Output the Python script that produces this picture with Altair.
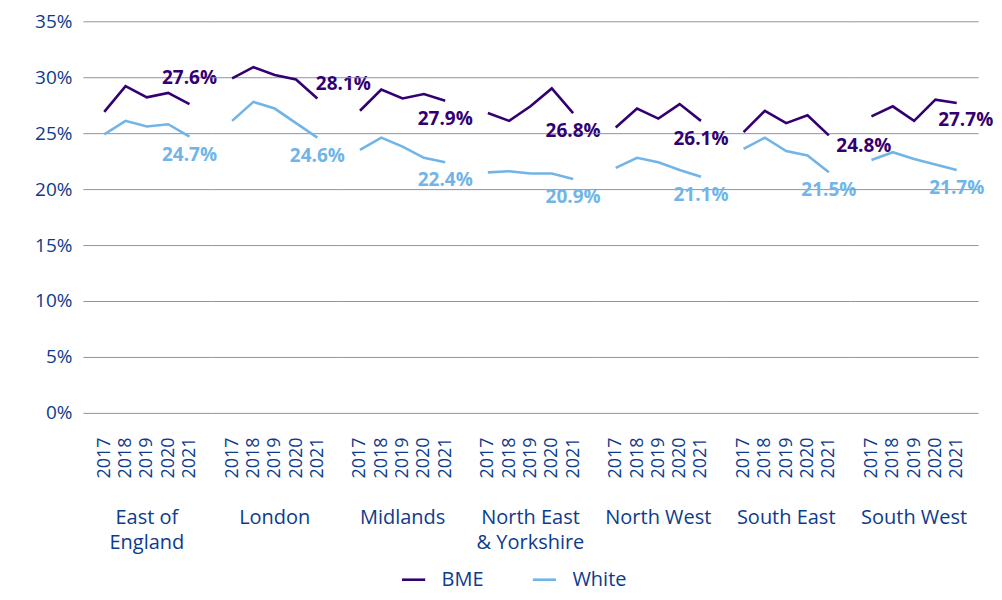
import altair as alt
import pandas as pd

regions = ["East of England", "London", "Midlands", "North East & Yorkshire",
           "North West", "South East", "South West"]
years = ["2017", "2018", "2019", "2020", "2021"]
series = ["BME", "White"]

bme = [
    [26.9, 29.2, 28.2, 28.6, 27.6],
    [29.9, 30.9, 30.2, 29.8, 28.1],
    [27.0, 28.9, 28.1, 28.5, 27.9],
    [26.8, 26.1, 27.4, 29.0, 26.8],
    [25.5, 27.2, 26.3, 27.6, 26.1],
    [25.1, 27.0, 25.9, 26.6, 24.8],
    [26.5, 27.4, 26.1, 28.0, 27.7],
]
white = [
    [24.9, 26.1, 25.6, 25.8, 24.7],
    [26.1, 27.8, 27.2, 25.9, 24.6],
    [23.5, 24.6, 23.8, 22.8, 22.4],
    [21.5, 21.6, 21.4, 21.4, 20.9],
    [21.9, 22.8, 22.4, 21.7, 21.1],
    [23.6, 24.6, 23.4, 23.0, 21.5],
    [22.6, 23.3, 22.7, 22.2, 21.7],
]
y_ticks = [0, 5, 10, 15, 20, 25, 30, 35]

rows = []
for ri, reg in enumerate(regions):
    for yi, yr in enumerate(years):
        rows.append({"region": reg, "year": yr, "series": "BME", "value": bme[ri][yi],
                     "key": reg + "|BME"})
        rows.append({"region": reg, "year": yr, "series": "White", "value": white[ri][yi],
                     "key": reg + "|White"})
df = pd.DataFrame(rows)

PURPLE = "#330072"
LIGHT = "#71B5E8"
TEXT = "#0D3B8C"
GRID = "#8C95A3"
FONT = "Open Sans"

# label placement nudges (style, not data)
nudges = {
    "East of England|BME": (0, -26),
    "London|BME": (26, -14),
    "South East|BME": (35, 11),
    "South West|BME": (9, 17),
}

x_enc = alt.X("year:O", sort=years,
              scale=alt.Scale(type="point", padding=1.5),
              axis=alt.Axis(title=None, labelAngle=-90, labelFontSize=18,
                            labelColor=TEXT, labelFont=FONT, ticks=False,
                            domain=False, labelPadding=24, labelOverlap=False,
                            grid=False))
y_enc = alt.Y("value:Q", scale=alt.Scale(domain=[0, 35]),
              axis=alt.Axis(title=None, values=y_ticks, labelExpr="datum.value + '%'",
                            labelFontSize=19, labelColor=TEXT, labelFont=FONT,
                            ticks=False, domain=False, labelPadding=11,
                            minExtent=70, gridColor=GRID, gridWidth=1))

lines = alt.Chart().mark_line(strokeWidth=2.6).encode(
    x=x_enc, y=y_enc,
    color=alt.Color("series:N", scale=alt.Scale(domain=series, range=[PURPLE, LIGHT]),
                    legend=alt.Legend(title=None, orient="none", direction="horizontal",
                                      legendX=318, legendY=546, padding=0,
                                      symbolType="stroke", symbolStrokeWidth=2.6,
                                      symbolSize=540, labelFontSize=20, labelColor=TEXT,
                                      labelFont=FONT, labelOffset=15, columnPadding=43)),
    detail="series:N",
)

label_color = alt.condition(alt.datum.series == "BME", alt.value(PURPLE), alt.value(LIGHT))


def label_layer(dx, dy, filt):
    return alt.Chart().mark_text(fontSize=19, fontWeight="bold", font=FONT,
                                 dx=dx, dy=dy, baseline="middle", align="center").encode(
        x=alt.X("year:O", sort=years), y="value:Q",
        text=alt.Text("label:N"),
        color=label_color,
    ).transform_filter(alt.datum.year == "2021").transform_filter(filt).transform_calculate(
        label="format(datum.value, '.1f') + '%'")


default_filter = " && ".join([f"datum.key != '{k}'" for k in nudges])
layers = [lines, label_layer(0, 18, default_filter)]
for k, (dx, dy) in nudges.items():
    layers.append(label_layer(dx, dy, f"datum.key == '{k}'"))

layered = alt.layer(*layers, data=df).properties(width=128, height=392)

chart = layered.facet(
    column=alt.Column("region:N", sort=regions,
                      header=alt.Header(title=None, labelOrient="bottom",
                                        labelFontSize=20, labelColor=TEXT, labelFont=FONT,
                                        labelPadding=30, labelBaseline="top",
                                        labelLineHeight=25,
                                        labelExpr="datum.value == 'East of England' ? ['East of', 'England'] : datum.value == 'North East & Yorkshire' ? ['North East', '& Yorkshire'] : datum.value")),
    spacing=0,
).properties(bounds="flush", padding={"left": 5, "top": 4, "right": 0, "bottom": 2}).configure_view(stroke=None)

chart.save("out.html", embed_options={"renderer": "svg", "actions": False})
